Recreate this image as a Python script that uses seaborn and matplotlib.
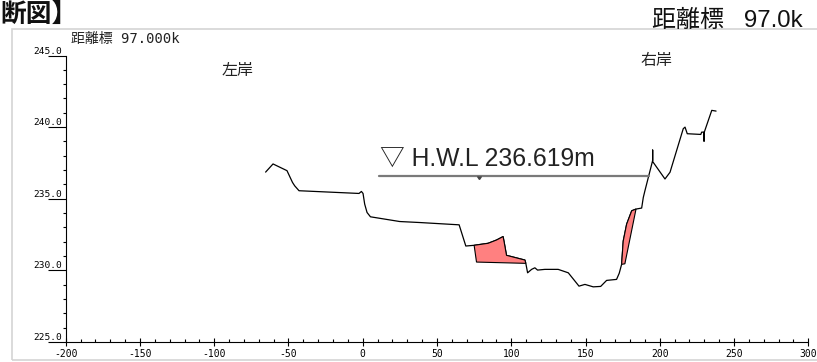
import matplotlib
matplotlib.use("Agg")
import matplotlib.pyplot as plt
from matplotlib.patches import Rectangle
from matplotlib.ticker import MultipleLocator
import pandas as pd
import seaborn as sns

# 横断測線 (追加距離 m / 標高 m)
station = [-65.4, -60.4, -51.0, -47.3, -45.8, -42.9, -2.5, -0.9, 0.2, 1.3,
           2.9, 5.2, 24.9, 38.4, 64.9, 69.4, 75.0, 84.4, 90.1, 94.5,
           95.2, 96.8, 109.2, 109.8, 111.0, 113.7, 115.9, 117.7, 122.6, 131.6,
           138.4, 142.9, 145.6, 149.6, 155.2, 160.2, 164.2, 170.9, 172.7, 174.3,
           175.4, 177.7, 181.1, 184.0, 187.8, 188.9, 190.0, 195.2, 195.2, 195.2,
           203.5, 206.9, 215.8, 217.0, 218.5, 227.6, 228.2, 229.8, 229.8, 229.8,
           235.0, 237.9]
elevation = [236.86, 237.43, 236.96, 236.14, 235.90, 235.56, 235.37, 235.51, 235.37, 234.63,
             234.04, 233.74, 233.41, 233.34, 233.18, 231.70, 231.75, 231.89, 232.12, 232.36,
             231.98, 231.05, 230.72, 230.49, 229.83, 230.07, 230.18, 230.02, 230.07, 230.07,
             229.83, 229.25, 228.90, 229.02, 228.85, 228.88, 229.30, 229.37, 229.80, 230.42,
             232.05, 233.23, 234.16, 234.28, 234.35, 235.09, 235.56, 237.67, 238.40, 237.60,
             236.38, 236.85, 239.89, 240.00, 239.54, 239.49, 239.65, 239.65, 239.02, 239.60,
             241.17, 241.12]

# 堆積範囲
deposit_left_x = [75.0, 84.4, 90.1, 94.5, 95.2, 96.8, 109.2, 109.8, 76.6]
deposit_left_y = [231.75, 231.89, 232.12, 232.36, 231.98, 231.05, 230.72, 230.49, 230.58]
deposit_right_x = [174.3, 175.4, 177.7, 181.1, 184.0, 176.5]
deposit_right_y = [230.42, 232.05, 233.23, 234.16, 234.28, 230.46]

# 計画高水位
hwl_level = 236.619
hwl_span = [10.8, 192.5]
hwl_mark_x = 78.0
hwl_label = "▽ H.W.L 236.619m"

x_ticks = list(range(-200, 301, 50))
x_tick_labels = [str(v) for v in x_ticks]
y_ticks = [225.0, 230.0, 235.0, 240.0, 245.0]
y_tick_labels = ["225.0", "230.0", "235.0", "240.0", "245.0"]

W, H = 817, 362
sns.set_theme(style="white")
plt.rcParams["font.family"] = ["Noto Sans CJK JP", "DejaVu Sans"]

fig = plt.figure(figsize=(W / 100, H / 100), dpi=100)
fig.patch.set_facecolor("white")
ax = fig.add_axes([65.7 / W, 1 - 342 / H, (808.3 - 65.7) / W, (342 - 55.5) / H])

profile = pd.DataFrame({"station": station, "elevation": elevation})
sns.lineplot(data=profile, x="station", y="elevation", sort=False, estimator=None,
             color="black", lw=0.9, ax=ax)

ax.fill(deposit_left_x, deposit_left_y, facecolor="#ff8080", edgecolor="black", lw=0.8, zorder=3)
ax.fill(deposit_right_x, deposit_right_y, facecolor="#ff8080", edgecolor="black", lw=0.8, zorder=3)

ax.plot(hwl_span, [hwl_level, hwl_level], color="#7a7a7a", lw=1.6, zorder=2)
ax.plot([hwl_mark_x], [hwl_level], marker=11, ms=3, color="#444444", zorder=2)
ax.text(11.7, 237.24, hwl_label, fontsize=17.8, color="#222222",
        family=["Liberation Sans", "Noto Sans CJK JP"], ha="left", va="baseline")

ax.text(-84.6, 243.95, "左岸", ha="center", va="center", fontsize=11.5, color="#222222")
ax.text(197.5, 244.65, "右岸", ha="center", va="center", fontsize=11.5, color="#222222")

ax.set_xlim(-200, 300)
ax.set_ylim(225, 245)
ax.set_xticks(x_ticks, labels=x_tick_labels)
ax.set_yticks(y_ticks, labels=y_tick_labels)
ax.xaxis.set_minor_locator(MultipleLocator(10))
ax.yaxis.set_minor_locator(MultipleLocator(1))
ax.set_xlabel("")
ax.set_ylabel("")

for side in ("top", "right"):
    ax.spines[side].set_visible(False)
for side in ("left", "bottom"):
    ax.spines[side].set_color("black")
    ax.spines[side].set_linewidth(0.8)

ax.tick_params(axis="x", which="major", direction="inout", length=6, width=0.8,
               pad=2, labelsize=7, colors="black", bottom=True)
ax.tick_params(axis="x", which="minor", direction="in", length=2.5, width=0.8,
               colors="black", bottom=True)
ax.tick_params(axis="y", which="major", direction="out", length=13, width=0.8,
               pad=-10.3, labelsize=6.8, colors="black", left=True)
ax.tick_params(axis="y", which="minor", direction="out", length=2.2, width=0.8,
               colors="black", left=True)
for lbl in ax.get_xticklabels():
    lbl.set_family(["DejaVu Sans Mono"])
for lbl in ax.get_yticklabels():
    lbl.set_family(["DejaVu Sans Mono"])
    lbl.set_va("bottom")

# 図枠と見出し
fig.add_artist(Rectangle((12 / W, 1 - 360 / H), (W + 10 - 12) / W, (360 - 29) / H,
                         transform=fig.transFigure, fill=False,
                         edgecolor="#d4d4d4", lw=1.2))
fig.text(70.7 / W, 1 - 42.5 / H, "距離標 97.000k", ha="left", va="baseline",
         fontsize=10, color="#222222", family=["DejaVu Sans Mono", "Noto Sans CJK JP"])
fig.text(803 / W, 1 - 27 / H, "距離標   97.0k", ha="right", va="baseline",
         fontsize=17.3, color="#111111", family=["Liberation Sans", "Noto Sans CJK JP"])
fig.text(0.5 / W, 1 - 22 / H, "断図】", ha="left", va="baseline",
         fontsize=18.5, weight="bold", color="#111111", family=["Noto Sans CJK JP"])

fig.savefig("out.png", dpi=100, facecolor="white")
